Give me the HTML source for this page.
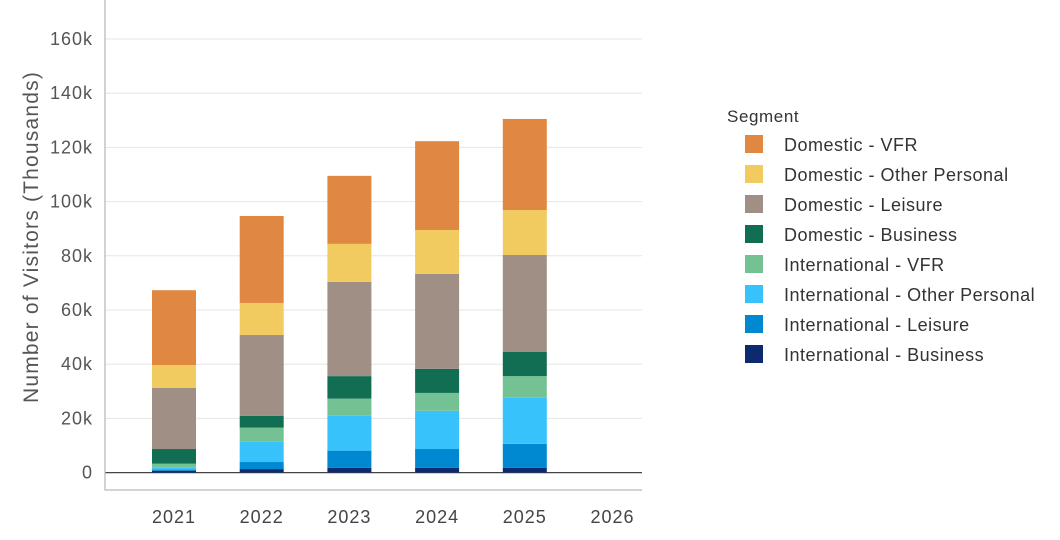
<!DOCTYPE html>
<html><head><meta charset="utf-8"><style>
body{margin:0;background:#fff;font-family:"Liberation Sans",sans-serif;}
svg text{font-family:"Liberation Sans",sans-serif;}
</style></head><body>
<svg id="c" width="1060" height="535"></svg>
<script>
const categories=["2021","2022","2023","2024","2025","2026"];
const segments=["International - Business","International - Leisure","International - Other Personal","International - VFR","Domestic - Business","Domestic - Leisure","Domestic - Other Personal","Domestic - VFR"];
const colors=["#0d2a6e","#0088d1","#38c2fc","#74c194","#116e53","#a08f84","#f2cb60","#e08841"];
const intlBusiness=[0.7,1.3,1.8,1.8,1.8,0];
const intlLeisure=[0.4,2.6,6.3,6.9,8.8,0];
const intlOther=[0.7,7.5,12.9,14.1,17.0,0];
const intlVFR=[1.5,5.2,6.3,6.6,8.0,0];
const domBusiness=[5.4,4.3,8.3,8.9,8.9,0];
const domLeisure=[22.6,29.9,34.8,35.0,35.8,0];
const domOther=[8.4,11.8,14.0,16.2,16.6,0];
const domVFR=[27.6,32.1,25.1,32.8,33.6,0];
const series=[intlBusiness,intlLeisure,intlOther,intlVFR,domBusiness,domLeisure,domOther,domVFR];
const yTicks=[0,20,40,60,80,100,120,140,160];
const NS="http://www.w3.org/2000/svg";
const svg=document.getElementById('c');
function mk(t,a,p){const e=document.createElementNS(NS,t);for(const k in a)e.setAttribute(k,a[k]);(p||svg).appendChild(e);return e;}
const x0=105,x1=642,y0=472.6,pxPer=54.2/20;
const y=v=>y0-v*pxPer;
const xc=i=>174+i*87.7;
const bw=44;
yTicks.forEach(t=>{
  const g=mk('line',{x1:x0,x2:x1,y1:y(t),y2:y(t),stroke:t===0?'#444':'#e6e6e6','stroke-width':t===0?1.3:1});
  
  
  const tx=mk('text',{x:93,y:y(t)+6,'text-anchor':'end','font-size':18,'letter-spacing':1,fill:'#555'});
  tx.textContent=t===0?'0':t+'k';
  
  
});
categories.forEach((c,i)=>{
  let cum=0;
  series.forEach((s,j)=>{
    const v=s[i];if(!v)return;
    const r=mk('rect',{x:xc(i)-bw/2,y:y(cum+v),width:bw,height:v*pxPer,fill:colors[j]});
    
    
    cum+=v;
  });
  const tx=mk('text',{x:xc(i),y:523,'text-anchor':'middle','font-size':18,'letter-spacing':1,fill:'#444'});
  tx.textContent=c;
  
  
});
const ax=mk('path',{d:`M${x0} 0V490H${x1}`,fill:'none',stroke:'#bbb','stroke-width':1.3});


const yt=mk('text',{x:0,y:0,transform:'translate(38,237) rotate(-90)','text-anchor':'middle','font-size':21,'letter-spacing':1.2,fill:'#555'});
yt.textContent='Number of Visitors (Thousands)';


const lt=mk('text',{x:727,y:122,'font-size':17,'letter-spacing':0.6,fill:'#333'});
lt.textContent='Segment';


for(let k=0;k<8;k++){
  const j=7-k;const yy=135+k*30;
  const sw=mk('rect',{x:745,y:yy,width:18,height:18,fill:colors[j]});
  
  
  const t=mk('text',{x:784,y:yy+16,'font-size':18,'letter-spacing':0.5,fill:'#333'});
  t.textContent=segments[j];
  
  
}
</script>
</body></html>
